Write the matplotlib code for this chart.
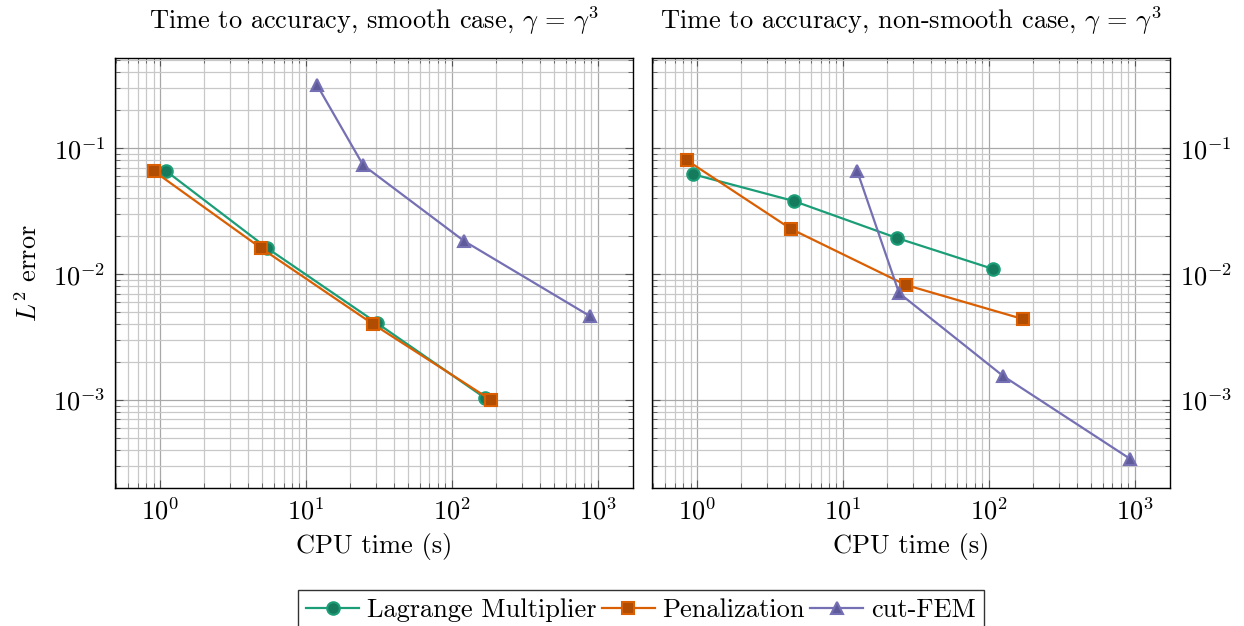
import matplotlib
matplotlib.use("Agg")
import matplotlib.pyplot as plt
from matplotlib.ticker import LogLocator, NullFormatter

# Data: smooth case
smooth_lm_t = [1.1, 5.4, 30.6, 168]
smooth_lm_e = [0.0657, 0.0161, 0.00408, 0.00104]
smooth_pen_t = [0.9, 4.9, 28.8, 185]
smooth_pen_e = [0.066, 0.0161, 0.0040, 0.00100]
smooth_cut_t = [11.9, 24.6, 121, 881]
smooth_cut_e = [0.316, 0.0733, 0.0183, 0.00464]

# Data: non-smooth case
ns_lm_t = [0.93, 4.6, 23.5, 106]
ns_lm_e = [0.0622, 0.038, 0.0193, 0.0110]
ns_pen_t = [0.85, 4.4, 27.0, 171]
ns_pen_e = [0.080, 0.0228, 0.00818, 0.00439]
ns_cut_t = [12.5, 24.2, 125, 930]
ns_cut_e = [0.0657, 0.00706, 0.00155, 0.00034]

titles = [r"Time to accuracy, smooth case, $\gamma\,=\,\gamma^3$",
          r"Time to accuracy, non-smooth case, $\gamma\,=\,\gamma^3$"]
labels = ["Lagrange Multiplier", "Penalization", "cut-FEM"]

plt.rcParams['font.family'] = 'serif'
plt.rcParams['font.serif'] = ['cmr10', 'DejaVu Serif']
plt.rcParams['mathtext.fontset'] = 'cm'
plt.rcParams['axes.formatter.use_mathtext'] = True
plt.rcParams['axes.unicode_minus'] = False

FS = 19
colors = ['#1b9e77', '#d95f02', '#7570b3']
faces = ['#167a5d', '#b04d02', '#5f5a9a']
markers = ['o', 's', '^']

fig = plt.figure(figsize=(12.44, 6.26), dpi=100)
W, H = 1244, 626
ax1 = fig.add_axes([115 / W, 1 - 488 / H, 518 / W, 430 / H])
ax2 = fig.add_axes([652 / W, 1 - 488 / H, 518 / W, 430 / H])

datasets = [
    [(smooth_lm_t, smooth_lm_e), (smooth_pen_t, smooth_pen_e), (smooth_cut_t, smooth_cut_e)],
    [(ns_lm_t, ns_lm_e), (ns_pen_t, ns_pen_e), (ns_cut_t, ns_cut_e)],
]

handles = []
for k, (ax, data) in enumerate(zip([ax1, ax2], datasets)):
    for i, (t, e) in enumerate(data):
        h, = ax.plot(t, e, color=colors[i], marker=markers[i], markersize=9 if i < 2 else 8,
                     markerfacecolor=faces[i], markeredgecolor=colors[i], markeredgewidth=1.5,
                     linewidth=1.6, label=labels[i], zorder=3)
        if k == 0:
            handles.append(h)
    ax.set_xscale('log')
    ax.set_yscale('log')
    ax.set_xlim(0.49, 1740)
    ax.set_ylim(2.0e-4, 0.52)
    ax.xaxis.set_major_locator(LogLocator(base=10, numticks=10))
    ax.xaxis.set_minor_locator(LogLocator(base=10, subs=range(2, 10), numticks=20))
    ax.yaxis.set_major_locator(LogLocator(base=10, numticks=10))
    ax.yaxis.set_minor_locator(LogLocator(base=10, subs=range(2, 10), numticks=20))
    ax.xaxis.set_minor_formatter(NullFormatter())
    ax.yaxis.set_minor_formatter(NullFormatter())
    ax.grid(True, which='major', color='#a8a8a8', linewidth=0.9)
    ax.grid(True, which='minor', color='#c8c8c8', linewidth=0.9)
    ax.set_axisbelow(True)
    ax.tick_params(which='both', direction='in', top=True, bottom=True, left=True, right=True,
                   labelsize=FS, color='#555555')
    ax.tick_params(which='major', length=6, pad=7)
    ax.tick_params(which='minor', length=3.5)
    for s in ax.spines.values():
        s.set_linewidth(1.0)
    ax.set_title(titles[k], fontsize=FS, pad=21)
    ax.set_xlabel("CPU time (s)", fontsize=FS, labelpad=6)

ax1.set_ylabel(r"$L^2$ error", fontsize=FS, labelpad=8)
ax2.yaxis.tick_right()
ax2.tick_params(which='both', left=True, right=True, labelleft=False, labelright=True)

fig.legend(handles=handles, labels=labels, loc='upper center', bbox_to_anchor=(641 / W, 1 - 577 / H),
           ncol=3, fontsize=FS, frameon=True, fancybox=False, edgecolor='black',
           handlelength=2.0, handletextpad=0.3, columnspacing=0.2, borderpad=0.3)

fig.savefig("out.png", dpi=100)
